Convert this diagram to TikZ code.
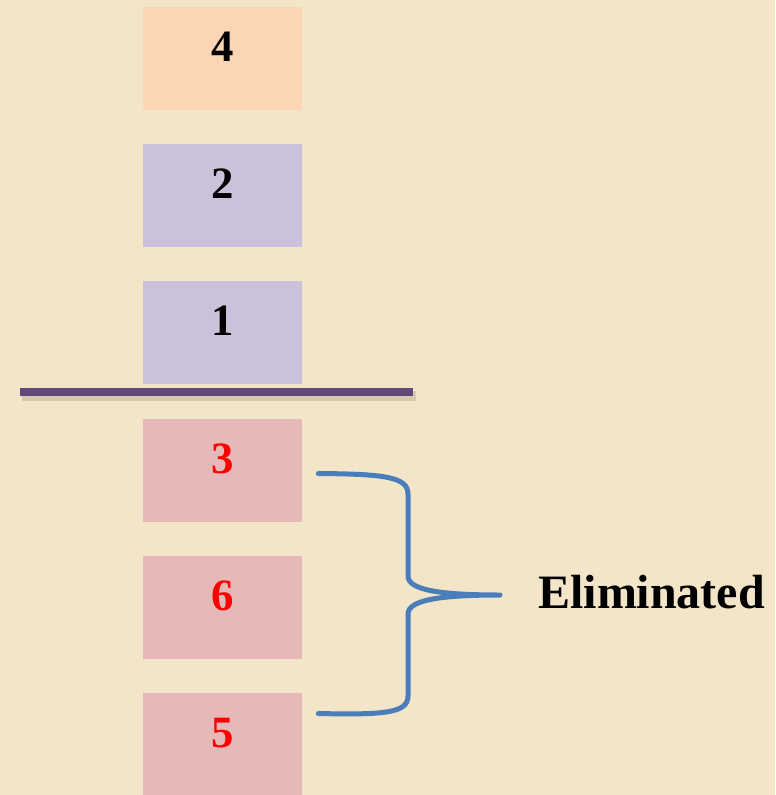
\documentclass[tikz,border=0pt]{standalone}
\usepackage{fontspec}
\setmainfont{Liberation Serif}
\usepackage{tikz}
\usetikzlibrary{positioning,calc}
\definecolor{paper}{HTML}{F3E6C8}
\definecolor{peach}{HTML}{FCD5B5}
\definecolor{lilac}{HTML}{CCC1DA}
\definecolor{rose}{HTML}{E6B9B8}
\definecolor{plum}{HTML}{604A7B}
\definecolor{steel}{HTML}{4A7EBB}

\begin{document}
\begin{tikzpicture}[x=0.02cm, y=-0.02cm,
    box/.style={minimum width=3.18cm, minimum height=2.06cm, inner sep=0pt,
      text height=0.62cm, text depth=0.5cm,
      font=\fontsize{25.5}{30}\selectfont\bfseries},
    kept/.style={box, fill=lilac},
    gone/.style={box, fill=rose, text=red}]
    % page
    \fill[paper] (0,0) rectangle (775,795);
    \useasboundingbox (0,0) rectangle (775,795);
    % stack above the line
    \node[box, fill=peach] (b4) at (222.5,58.5) {4};
    \node[kept] (b2) at (222.5,195.5) {2};
    \node[kept] (b1) at (222.5,332.5) {1};
    % divider
    \draw[black, opacity=0.12, line width=0.2cm] (22,396) -- (416,396);
    \draw[plum, line width=0.16cm] (20,391.5) -- (413,391.5);
    % stack below the line
    \node[gone] (b3) at (222.5,470.5) {3};
    \node[gone] (b6) at (222.5,607.5) {6};
    \node[gone] (b5) at (222.5,744.5) {5};
    % brace
    \node[anchor=base west, inner sep=0pt, font=\fontsize{27.3}{30}\selectfont\bfseries]
      (elim) at (538,608) {Eliminated};
    \coordinate (top) at ($(b3.east)+(16,3)$);
    \coordinate (bot) at ($(b5.east)+(16,-31)$);
    \coordinate (tip) at ($(elim.base west)+(-38,-13)$);
    \draw[steel, line width=0.1cm, line cap=round, line join=round]
      (top) .. controls (385,474) and (408,477) .. (408,494) -- (408,576)
      .. controls (408,590) and (440,595) .. (tip)
      .. controls (440,595) and (408,600) .. (408,614) -- (408,696)
      .. controls (408,713) and (385,715) .. (bot);
  \end{tikzpicture}
\end{document}
